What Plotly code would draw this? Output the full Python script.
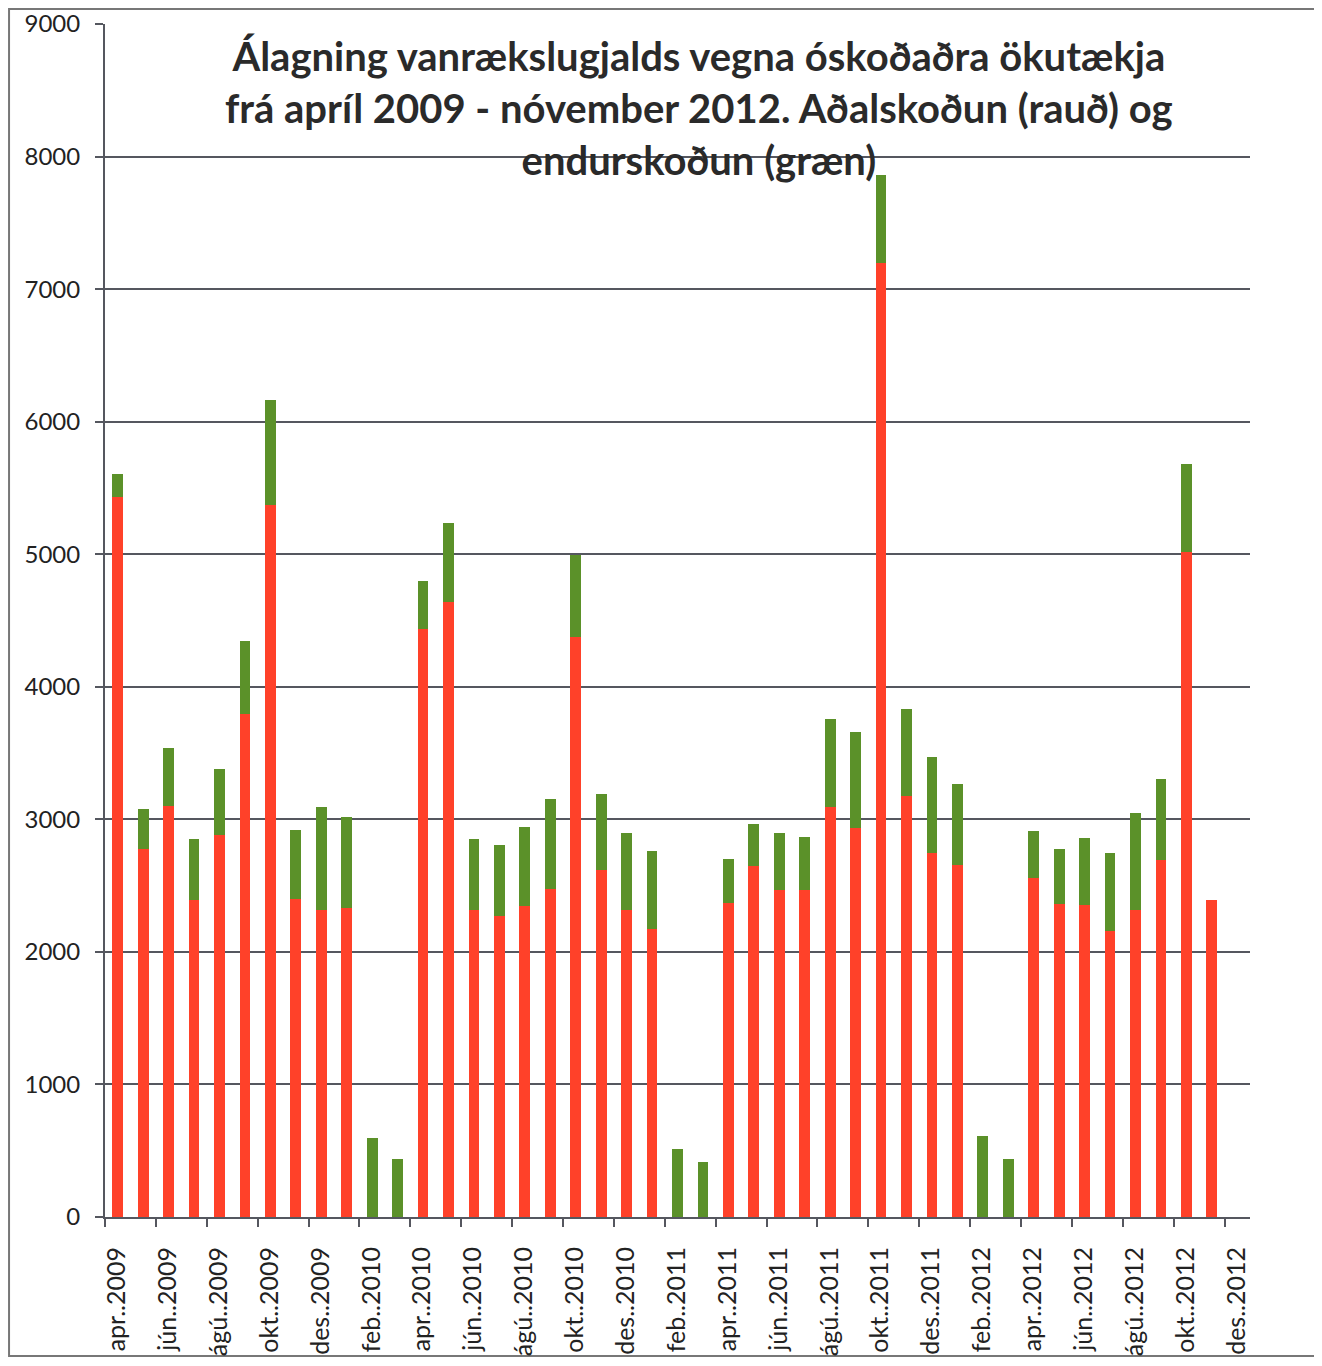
import plotly.graph_objects as go

months = [
    "apr..2009", "maí..2009", "jún..2009", "júl..2009", "ágú..2009", "sep..2009",
    "okt..2009", "nóv..2009", "des..2009", "jan..2010", "feb..2010", "mar..2010",
    "apr..2010", "maí..2010", "jún..2010", "júl..2010", "ágú..2010", "sep..2010",
    "okt..2010", "nóv..2010", "des..2010", "jan..2011", "feb..2011", "mar..2011",
    "apr..2011", "maí..2011", "jún..2011", "júl..2011", "ágú..2011", "sep..2011",
    "okt..2011", "nóv..2011", "des..2011", "jan..2012", "feb..2012", "mar..2012",
    "apr..2012", "maí..2012", "jún..2012", "júl..2012", "ágú..2012", "sep..2012",
    "okt..2012", "nóv..2012", "des..2012",
]

# Aðalskoðun (rauð)
adalskodun = [
    5435, 2775, 3100, 2394, 2879, 3793, 5374, 2396, 2319, 2331, 0, 0,
    4437, 4638, 2314, 2274, 2344, 2477, 4374, 2621, 2314, 2176, 0, 0,
    2369, 2646, 2470, 2465, 3093, 2934, 7196, 3176, 2746, 2659, 0, 0,
    2561, 2360, 2352, 2158, 2317, 2694, 5018, 2392,
]

# Endurskoðun (græn)
endurskodun = [
    171, 300, 437, 460, 502, 555, 789, 520, 773, 686, 595, 437,
    359, 595, 540, 535, 598, 674, 621, 572, 586, 585, 512, 414,
    335, 321, 427, 402, 666, 724, 666, 658, 724, 610, 610, 437,
    351, 419, 510, 586, 729, 613, 666, 0,
]

y_ticks = [0, 1000, 2000, 3000, 4000, 5000, 6000, 7000, 8000, 9000]

title_text = ("Álagning vanrækslugjalds vegna óskoðaðra ökutækja<br>"
              "frá apríl 2009 - nóvember 2012. Aðalskoðun (rauð) og<br>"
              "endurskoðun (græn)")

x_idx = list(range(len(adalskodun)))

RED = "#FF4129"
GREEN = "#5B9129"
GRID = "#55575F"
FONT = "Lato"

fig = go.Figure()
fig.add_trace(go.Bar(x=x_idx, y=adalskodun, name="Aðalskoðun",
                     marker=dict(color=RED, line=dict(width=0))))
fig.add_trace(go.Bar(x=x_idx, y=endurskodun, name="Endurskoðun",
                     marker=dict(color=GREEN, line=dict(width=0))))

n_slots = len(months)
tick_pos = [i - 0.5 for i in range(0, n_slots, 2)]
tick_txt = [months[i] for i in range(0, n_slots, 2)]

fig.update_layout(
    width=1314, height=1358,
    barmode="stack", bargap=0.58,
    showlegend=False,
    plot_bgcolor="white", paper_bgcolor="white",
    margin=dict(l=97, r=72, t=16, b=149, autoexpand=False),
    font=dict(family=FONT, color="#222222"),
    xaxis=dict(
        range=[-0.5, n_slots - 0.5],
        tickmode="array", tickvals=tick_pos, ticktext=tick_txt,
        tickangle=-90, ticks="outside", ticklen=8, tickwidth=2, tickcolor=GRID,
        ticklabelshift=12, ticklabelstandoff=10,
        tickfont=dict(family=FONT, size=25, color="#222222"),
        showline=True, linecolor=GRID, linewidth=2,
        showgrid=False, zeroline=False, automargin=False,
    ),
    yaxis=dict(
        range=[0, 9000],
        tickmode="array", tickvals=y_ticks,
        ticks="outside", ticklen=8, tickwidth=2, tickcolor=GRID,
        ticklabelstandoff=10,
        tickfont=dict(family=FONT, size=24, color="#222222"),
        showline=True, linecolor=GRID, linewidth=2,
        showgrid=True, gridcolor=GRID, gridwidth=2,
        zeroline=False, automargin=False,
    ),
)

fig.add_annotation(
    xref="paper", yref="paper", x=0.519, y=0.930,
    xanchor="center", yanchor="middle",
    text="<b>" + title_text + "</b>", showarrow=False,
    font=dict(family=FONT, size=40, color="#2A2A2A"),
    align="center",
)

fig.add_shape(type="rect", xref="paper", yref="paper",
              x0=-0.0838, x1=1.0568, y0=-0.1165, y1=1.0126,
              line=dict(color="#777777", width=2), layer="below")

fig.write_html("out.html")
